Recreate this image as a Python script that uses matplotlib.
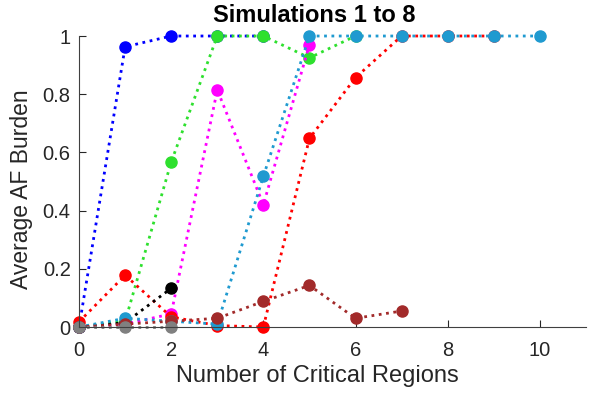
import matplotlib
matplotlib.use("Agg")
import matplotlib.pyplot as plt

plt.rcParams['font.family'] = ['Liberation Sans', 'DejaVu Sans']

# average AF burden per simulation vs number of critical regions
blue_x = [0, 1, 2, 3, 4]
blue_y = [0.0, 0.963, 1.0, 1.0, 1.0]

green_x = [0, 1, 2, 3, 4, 5, 6]
green_y = [0.0, 0.02, 0.567, 1.0, 1.0, 0.925, 1.0]

magenta_x = [0, 1, 2, 3, 4, 5]
magenta_y = [0.0, 0.01, 0.045, 0.815, 0.42, 0.97]

red_x = [0, 1, 2, 3, 4, 5, 6, 7, 8, 9]
red_y = [0.018, 0.178, 0.035, 0.005, 0.0, 0.648, 0.857, 1.0, 1.0, 1.0]

black_x = [0, 1, 2]
black_y = [0.0, 0.015, 0.133]

cyan_x = [0, 1, 2, 3, 4, 5, 6, 7, 8, 9, 10]
cyan_y = [0.0, 0.03, 0.02, 0.01, 0.518, 1.0, 1.0, 1.0, 1.0, 1.0, 1.0]

brown_x = [0, 1, 2, 3, 4, 5, 6, 7]
brown_y = [0.0, 0.01, 0.02, 0.03, 0.088, 0.143, 0.03, 0.055]

gray_x = [0, 1, 2]
gray_y = [0.0, 0.0, 0.0]

series = [
    (blue_x, blue_y, "#0000ff"),
    (green_x, green_y, "#2ee02e"),
    (magenta_x, magenta_y, "#ff00ff"),
    (red_x, red_y, "#ff0000"),
    (black_x, black_y, "#000000"),
    (cyan_x, cyan_y, "#1f9ad0"),
    (brown_x, brown_y, "#a22a2a"),
    (gray_x, gray_y, "#808080"),
]

fig = plt.figure(figsize=(5.9, 3.94), dpi=100)
ax = fig.add_axes([0.134, 0.170, 0.859, 0.7386])

for xs, ys, c in series:
    ax.plot(xs, ys, linestyle=":", linewidth=2, color=c, marker="o",
            markersize=8, markerfacecolor=c, markeredgecolor=c, clip_on=False)

ax.set_xlim(0, 11)
ax.set_ylim(0, 1)
ax.set_xticks([0, 2, 4, 6, 8, 10])
ax.set_yticks([0, 0.2, 0.4, 0.6, 0.8, 1])
ax.set_yticklabels(["0", "0.2", "0.4", "0.6", "0.8", "1"])
ax.spines['top'].set_visible(False)
ax.spines['right'].set_visible(False)
for s in ['left', 'bottom']:
    ax.spines[s].set_color("#404040")
ax.tick_params(direction="in", length=5, labelsize=14.5, colors="#262626")
ax.tick_params(axis="x", pad=10)
ax.tick_params(axis="y", pad=6)
ax.set_xlabel("Number of Critical Regions", fontsize=17, color="#262626")
ax.xaxis.set_label_coords(0.47, -0.13)
ax.set_ylabel("Average AF Burden", fontsize=16.5, color="#262626")
ax.yaxis.set_label_coords(-0.09, 0.474)
fig.text(314 / 590, 1 - 15 / 394, "Simulations 1 to 8", fontsize=17,
         fontweight="bold", ha="center", va="center")

fig.savefig("out.png", dpi=100)
